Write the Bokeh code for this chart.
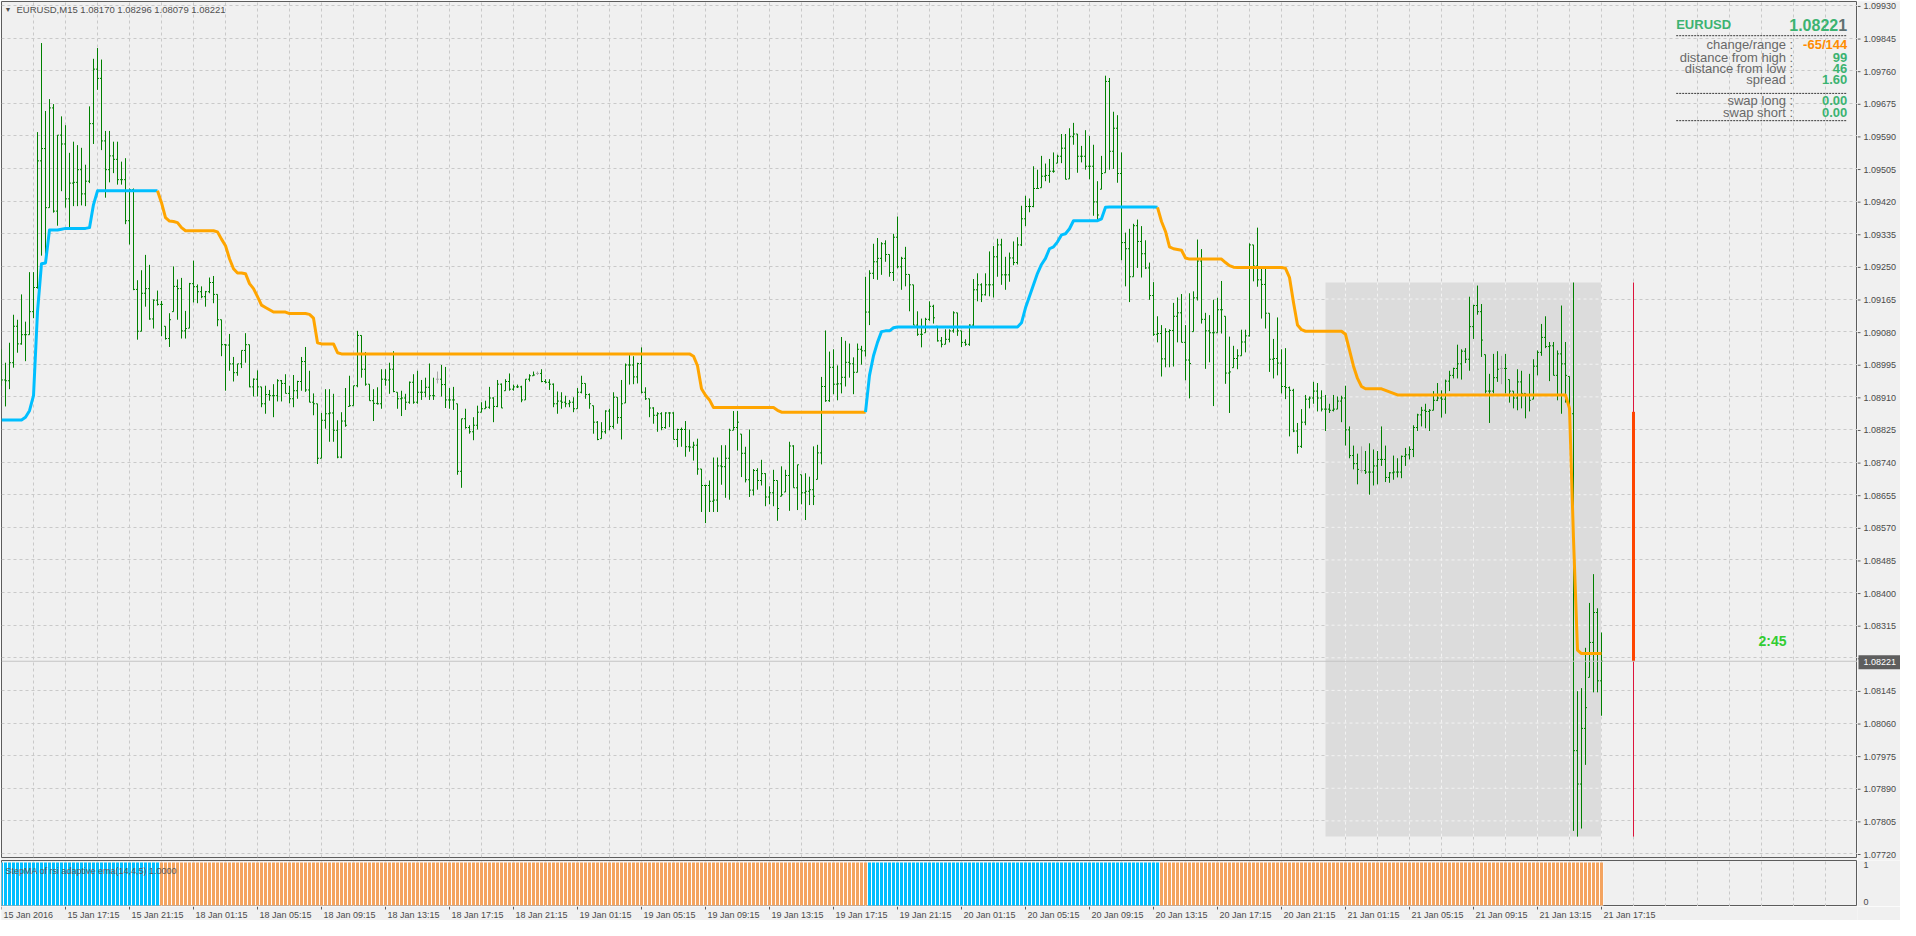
import numpy as np
from bokeh.plotting import figure
from bokeh.layouts import column, row
from bokeh.models import FixedTicker, Span, Label, Range1d, Grid
from bokeh.core.properties import value
from bokeh.embed import file_html
from bokeh.resources import INLINE

# ---------------------------------------------------------------- data
symbol = "EURUSD"
timeframe = "M15"
header_values = ["1.08170", "1.08296", "1.08079", "1.08221"]
bid_price = 1.08221
pip = 0.0001
pip_base = 1.07000          # bar values below are in pips above this level

first_open = 197.5
bar_high = [
    203.4, 199.9, 205.1, 212.4, 211.1, 217.7, 210.6, 223.5, 223.5, 260.0,
    283.2, 265.5, 268.6, 267.3, 259.2, 264.1, 261.8, 254.6, 257.5, 256.6,
    255.9, 251.5, 266.7, 279.1, 281.9, 278.9, 260.3, 260.3, 257.5, 257.5,
    252.3, 253.2, 245.3, 245.3, 221.4, 224.0, 228.0, 225.4, 216.4, 218.7,
    216.0, 209.4, 212.8, 225.0, 221.6, 222.0, 213.4, 220.7, 226.5, 220.3,
    219.8, 218.6, 222.1, 222.5, 217.7, 211.1, 204.8, 207.4, 201.4, 199.6,
    203.1, 207.6, 204.6, 195.8, 197.9, 193.6, 193.9, 192.8, 194.3, 195.6,
    195.4, 196.9, 193.9, 196.7, 195.2, 201.4, 204.0, 197.8, 191.9, 189.2,
    186.8, 193.0, 193.0, 191.8, 184.9, 187.0, 193.3, 196.5, 193.9, 208.2,
    207.0, 202.7, 194.3, 193.0, 193.5, 198.2, 198.2, 199.9, 202.9, 192.2,
    192.6, 191.8, 195.0, 196.9, 197.8, 195.4, 196.0, 199.7, 196.0, 197.6,
    199.3, 198.8, 193.3, 193.6, 189.2, 185.3, 187.9, 183.6, 185.7, 188.7,
    189.6, 190.0, 193.6, 190.9, 195.4, 194.5, 195.6, 197.1, 194.2, 194.2,
    193.9, 195.6, 196.9, 197.6, 197.6, 198.2, 195.6, 195.6, 194.5, 192.4,
    192.2, 191.3, 190.2, 190.9, 193.3, 196.5, 194.5, 191.9, 188.7, 184.7,
    184.4, 187.5, 187.9, 192.2, 190.9, 195.4, 199.7, 201.9, 201.6, 199.9,
    203.9, 193.5, 190.5, 188.3, 187.0, 187.0, 187.0, 187.0, 187.0, 182.7,
    183.0, 184.7, 182.5, 179.3, 180.1, 172.2, 168.1, 169.2, 175.2, 175.2,
    178.4, 178.4, 182.7, 187.3, 187.3, 181.3, 178.0, 182.5, 172.2, 172.4,
    174.6, 171.1, 167.7, 172.0, 169.2, 172.9, 172.0, 179.3, 178.4, 173.3,
    170.7, 171.1, 170.2, 178.1, 178.5, 196.2, 208.3, 202.8, 203.4, 199.2,
    206.6, 205.6, 204.9, 201.3, 204.9, 204.3, 222.3, 224.0, 230.9, 232.4,
    231.3, 231.8, 228.1, 233.5, 238.0, 227.5, 230.1, 222.9, 220.2, 213.3,
    211.4, 211.6, 215.9, 215.0, 209.4, 206.6, 208.6, 208.6, 213.3, 212.9,
    208.2, 206.0, 209.9, 221.7, 223.2, 220.6, 223.2, 228.9, 230.3, 232.2,
    232.2, 227.5, 228.6, 231.5, 232.6, 240.8, 243.4, 242.7, 251.1, 250.2,
    253.8, 251.8, 253.0, 254.7, 254.1, 259.5, 259.5, 261.0, 262.4, 259.5,
    256.4, 260.5, 259.0, 256.7, 247.2, 253.8, 274.7, 274.1, 265.3, 264.4,
    254.7, 233.8, 234.8, 236.1, 237.2, 235.5, 231.8, 226.0, 220.9, 212.0,
    209.7, 208.9, 208.6, 215.5, 216.9, 217.8, 209.7, 218.0, 218.5, 232.0,
    229.5, 212.9, 212.3, 216.3, 216.8, 221.2, 212.0, 206.7, 204.3, 203.4,
    208.5, 208.5, 231.0, 230.6, 235.1, 225.1, 225.1, 212.8, 206.1, 211.7,
    203.4, 203.7, 193.7, 193.1, 184.2, 187.8, 191.5, 191.1, 194.9, 194.6,
    192.7, 191.5, 189.2, 191.5, 191.1, 191.3, 193.9, 183.3, 178.3, 176.2,
    178.1, 176.9, 178.9, 177.3, 176.9, 183.3, 178.3, 171.4, 175.7, 175.0,
    175.7, 177.7, 178.1, 183.6, 186.6, 188.4, 189.2, 187.8, 192.5, 194.6,
    192.7, 195.5, 197.8, 198.6, 204.6, 203.4, 203.7, 217.1, 215.0, 220.0,
    215.2, 202.0, 197.0, 202.2, 202.9, 201.7, 202.2, 195.5, 192.5, 198.2,
    197.8, 191.9, 197.0, 200.8, 203.1, 210.0, 212.0, 205.3, 205.3, 203.1,
    214.8, 205.3, 196.3, 220.8, 114.3, 115.1, 125.6, 137.3, 144.8, 135.9,
    129.6,
]
bar_low = [
    193.9, 188.5, 193.0, 198.6, 202.5, 204.6, 200.3, 207.2, 211.5, 219.2,
    227.8, 228.3, 240.3, 239.0, 235.6, 244.6, 240.3, 235.1, 240.7, 240.7,
    240.9, 240.7, 246.7, 256.9, 271.0, 255.3, 242.9, 246.9, 249.3, 246.3,
    246.3, 236.0, 230.7, 218.8, 205.9, 208.1, 214.5, 211.1, 208.8, 214.8,
    206.8, 205.9, 204.0, 213.2, 211.1, 206.2, 206.2, 208.9, 215.6, 215.4,
    216.7, 214.5, 218.0, 215.4, 209.4, 201.6, 192.6, 197.8, 195.0, 196.5,
    198.5, 199.9, 193.5, 191.1, 191.1, 188.3, 186.6, 190.0, 185.7, 189.8,
    189.8, 191.9, 189.3, 188.3, 190.5, 192.6, 192.3, 189.6, 186.2, 173.5,
    175.0, 182.7, 179.3, 179.3, 175.0, 175.0, 183.2, 188.5, 188.7, 193.5,
    196.0, 193.9, 190.0, 184.7, 189.0, 187.9, 193.9, 191.8, 192.2, 187.9,
    186.0, 187.6, 189.2, 189.2, 189.2, 190.2, 190.9, 190.2, 190.2, 194.5,
    191.1, 188.1, 187.9, 187.6, 170.7, 167.3, 182.7, 181.4, 179.7, 182.5,
    187.0, 187.9, 187.9, 184.4, 188.3, 188.1, 192.6, 192.6, 192.6, 193.3,
    189.6, 190.2, 195.0, 196.5, 196.7, 194.8, 194.5, 192.8, 188.3, 186.6,
    187.9, 188.3, 188.3, 187.0, 187.9, 191.9, 190.5, 187.9, 181.4, 179.7,
    180.1, 181.4, 182.3, 182.7, 184.0, 179.9, 189.4, 194.2, 194.3, 194.5,
    191.9, 190.2, 185.7, 184.0, 181.9, 182.3, 182.7, 183.1, 179.9, 177.9,
    178.0, 175.4, 176.7, 174.4, 170.7, 161.0, 158.1, 161.0, 161.0, 161.0,
    168.1, 164.7, 164.2, 182.3, 177.0, 170.1, 168.7, 164.9, 165.3, 166.8,
    167.9, 162.5, 163.0, 162.5, 158.7, 165.1, 166.2, 161.3, 167.3, 161.5,
    163.0, 158.9, 162.8, 162.8, 169.5, 173.4, 189.7, 189.7, 191.7, 190.1,
    191.9, 193.7, 196.0, 191.7, 197.4, 199.4, 201.5, 209.7, 221.7, 221.5,
    222.8, 226.2, 222.3, 221.2, 224.5, 218.9, 219.8, 213.3, 209.7, 206.9,
    203.9, 207.7, 210.8, 210.1, 205.4, 203.9, 204.7, 205.2, 207.7, 206.9,
    204.0, 204.3, 204.3, 209.4, 215.9, 215.7, 217.4, 217.2, 216.9, 222.3,
    220.2, 218.9, 221.0, 225.3, 225.5, 230.3, 235.5, 239.1, 240.4, 245.3,
    245.5, 247.2, 246.8, 249.4, 251.9, 251.9, 247.7, 247.8, 256.7, 249.4,
    252.1, 250.2, 247.7, 238.2, 236.9, 245.1, 249.4, 250.2, 250.4, 246.8,
    226.6, 219.8, 215.7, 222.3, 224.6, 222.1, 224.3, 216.3, 206.9, 205.2,
    196.3, 198.7, 198.7, 198.9, 205.2, 205.2, 195.3, 190.6, 208.0, 216.1,
    210.1, 198.3, 200.0, 188.6, 207.7, 207.5, 194.4, 186.8, 198.6, 198.2,
    201.7, 202.6, 206.7, 221.1, 219.7, 211.4, 208.8, 197.5, 195.8, 196.6,
    191.9, 190.4, 180.7, 181.8, 176.2, 177.7, 183.6, 188.0, 189.2, 187.2,
    187.2, 182.1, 186.8, 187.2, 187.8, 184.4, 178.3, 175.0, 172.1, 168.2,
    171.2, 170.9, 165.5, 167.9, 168.2, 173.0, 168.8, 168.6, 169.4, 170.0,
    169.8, 173.0, 174.7, 175.3, 182.1, 183.3, 182.8, 182.1, 187.5, 189.9,
    185.6, 186.6, 192.5, 195.8, 195.8, 195.5, 199.8, 197.8, 206.1, 212.4,
    201.4, 191.9, 184.2, 191.9, 194.9, 194.3, 191.9, 189.5, 188.0, 187.5,
    188.0, 185.4, 187.2, 190.4, 196.6, 201.7, 203.7, 195.1, 196.6, 190.1,
    186.6, 189.5, 186.6, 77.9, 76.4, 78.5, 95.1, 117.9, 114.0, 114.0,
    107.9,
]
bar_close = [
    195.4, 195.2, 199.9, 209.4, 204.8, 207.2, 207.2, 213.2, 219.5, 252.5,
    255.7, 240.3, 266.3, 239.4, 259.2, 256.9, 242.6, 246.7, 246.9, 250.2,
    243.9, 247.2, 262.2, 276.4, 274.0, 257.7, 250.2, 253.8, 252.9, 247.6,
    247.6, 236.9, 245.0, 219.0, 208.1, 218.0, 219.2, 211.3, 216.2, 215.1,
    215.1, 206.2, 211.1, 219.8, 219.2, 208.2, 208.8, 220.5, 219.7, 218.4,
    217.1, 218.4, 220.8, 217.7, 211.1, 204.6, 204.5, 199.6, 197.3, 199.6,
    203.1, 204.6, 193.6, 195.6, 193.6, 189.2, 191.6, 191.3, 191.3, 195.2,
    194.5, 191.9, 190.5, 192.6, 195.0, 200.2, 192.8, 189.6, 189.2, 175.0,
    184.9, 186.6, 186.8, 182.3, 175.3, 184.7, 183.6, 188.7, 193.9, 207.0,
    198.2, 194.3, 190.0, 189.3, 189.2, 195.6, 195.4, 198.2, 192.4, 190.5,
    190.7, 189.6, 194.8, 189.6, 192.2, 192.2, 193.5, 191.3, 191.3, 195.6,
    194.2, 190.2, 190.2, 190.2, 171.6, 185.3, 183.0, 181.9, 183.6, 187.0,
    187.9, 188.3, 190.7, 188.5, 194.3, 188.1, 195.0, 193.0, 193.6, 193.6,
    190.2, 195.6, 196.5, 196.7, 197.1, 195.0, 194.8, 194.3, 189.2, 189.9,
    189.6, 189.2, 189.6, 187.9, 192.2, 194.5, 191.6, 189.2, 184.4, 179.9,
    181.9, 187.3, 183.3, 190.9, 185.6, 189.2, 199.3, 199.3, 196.2, 199.7,
    192.2, 190.5, 188.1, 186.2, 186.6, 183.0, 186.8, 186.8, 179.9, 182.5,
    182.5, 178.0, 177.9, 178.4, 172.2, 167.9, 167.9, 163.8, 164.1, 173.0,
    172.8, 175.0, 182.3, 183.0, 184.4, 176.3, 169.4, 166.7, 171.8, 169.2,
    171.0, 164.9, 166.0, 169.2, 161.9, 165.5, 170.5, 178.2, 167.3, 173.3,
    166.0, 166.4, 166.8, 165.1, 176.4, 193.7, 190.0, 198.7, 194.3, 194.4,
    196.1, 200.0, 199.6, 197.4, 203.4, 203.0, 213.1, 223.2, 226.2, 227.1,
    230.9, 228.1, 223.4, 232.6, 224.9, 227.1, 222.9, 220.2, 209.7, 207.3,
    207.3, 211.2, 214.6, 211.6, 205.6, 204.7, 206.0, 208.2, 212.9, 208.2,
    205.2, 204.7, 209.7, 218.9, 220.2, 217.6, 220.2, 220.2, 227.5, 230.6,
    222.8, 222.8, 227.2, 226.0, 230.6, 237.4, 240.6, 240.6, 245.3, 245.3,
    248.5, 248.7, 249.8, 249.8, 253.7, 255.8, 247.7, 258.8, 259.5, 253.7,
    253.7, 251.1, 251.1, 241.8, 238.4, 249.2, 273.2, 255.0, 261.0, 249.2,
    231.2, 229.6, 222.3, 235.6, 231.5, 228.3, 224.6, 217.4, 207.3, 207.5,
    200.9, 208.0, 208.3, 212.0, 212.9, 205.2, 200.6, 199.7, 216.8, 226.4,
    211.2, 208.2, 207.7, 207.7, 213.7, 213.7, 197.2, 197.5, 201.0, 201.7,
    205.3, 206.9, 230.6, 225.1, 221.5, 220.3, 212.8, 200.8, 201.0, 199.8,
    193.7, 193.4, 192.7, 182.1, 178.1, 184.4, 190.4, 190.7, 192.5, 190.7,
    187.8, 187.8, 187.5, 187.8, 189.9, 190.7, 182.4, 175.7, 173.6, 172.1,
    171.8, 171.4, 171.4, 173.0, 174.7, 174.7, 170.0, 171.2, 171.4, 171.4,
    175.5, 175.9, 177.3, 183.0, 186.3, 187.5, 187.2, 187.5, 190.1, 190.7,
    190.4, 195.1, 196.6, 198.4, 199.6, 202.9, 200.8, 209.3, 214.8, 213.2,
    205.8, 192.5, 192.5, 196.0, 198.2, 198.4, 198.4, 192.5, 190.7, 194.9,
    191.9, 191.6, 190.1, 199.0, 202.6, 206.5, 204.1, 204.3, 196.6, 202.2,
    199.6, 196.6, 186.6, 98.8, 90.1, 104.6, 110.0, 127.0, 134.8, 117.0,
    122.1,
]
doji_bars = [109, 134, 340, 375]

step_ma = (
    [185.0] * 6 + [185.7, 187.4, 191.3, 213.2, 225.7, 225.9] + [234.5] * 3 + [234.7]
    + [234.9] * 6 + [235.1, 241.1] + [244.7] * 16
    + [241.6, 237.7, 236.8, 236.7, 236.4, 235.1] + [234.3] * 8
    + [234.0, 232.1, 230.4, 227.0, 224.4, 223.3, 223.3, 223.1, 220.5, 219.2, 217.1, 214.9, 214.3, 213.7]
    + [213.1] * 4 + [212.7] * 5 + [212.5, 211.5, 205.1] + [204.8] * 4 + [202.5]
    + [202.2] * 88 + [201.6, 199.1, 193.1, 191.4, 190.2] + [188.2] * 16 + [187.5]
    + [187.0] * 22 + [196.6, 201.7, 205.2, 208.0, 208.2, 208.2, 209.0] + [209.2] * 31
    + [210.3, 214.2, 217.2, 220.2, 223.2, 225.5, 227.1, 229.6, 230.1, 231.4, 233.2, 233.5, 234.8]
    + [236.9] * 7 + [237.4, 240.4] + [240.5] * 12
    + [240.4, 236.7, 234.1, 230.1, 229.6, 229.4, 229.2, 227.2] + [226.9] * 9
    + [226.0, 225.2, 224.8] + [224.7] * 12 + [224.5, 222.1, 215.6, 209.7, 208.5]
    + [208.1] * 10 + [207.3, 203.2, 199.0, 195.8, 193.7] + [193.1] * 5
    + [192.7, 192.3, 191.9] + [191.5] * 43 + [188.0, 154.0, 125.0] + [124.1] * 6
)
trend_runs = [("up", 40), ("down", 177), ("up", 73), ("down", 111)]
osc_value = 1.0

time_labels = [
    "15 Jan 2016", "15 Jan 17:15", "15 Jan 21:15",
    "18 Jan 01:15", "18 Jan 05:15", "18 Jan 09:15", "18 Jan 13:15", "18 Jan 17:15", "18 Jan 21:15",
    "19 Jan 01:15", "19 Jan 05:15", "19 Jan 09:15", "19 Jan 13:15", "19 Jan 17:15", "19 Jan 21:15",
    "20 Jan 01:15", "20 Jan 05:15", "20 Jan 09:15", "20 Jan 13:15", "20 Jan 17:15", "20 Jan 21:15",
    "21 Jan 01:15", "21 Jan 05:15", "21 Jan 09:15", "21 Jan 13:15", "21 Jan 17:15",
]
price_ticks = [
    1.07720, 1.07805, 1.07890, 1.07975, 1.08060, 1.08145, 1.08230, 1.08315, 1.08400,
    1.08485, 1.08570, 1.08655, 1.08740, 1.08825, 1.08910, 1.08995, 1.09080, 1.09165,
    1.09250, 1.09335, 1.09420, 1.09505, 1.09590, 1.09675, 1.09760, 1.09845, 1.09930,
]
osc_ticks = [0, 1]

day_start_bar = 331
day_open, day_high, day_low, day_close = 1.08871, 1.09208, 1.07764, 1.08221
day_candle_slot = 408

info_title = "EURUSD"
info_price_main, info_price_last = "1.0822", "1"
info_rows = [("change/range :", "-65/144"), ("distance from high :", "99"),
             ("distance from low :", "46"), ("spread :", "1.60")]
swap_rows = [("swap long :", "0.00"), ("swap short :", "0.00")]
timer_text = "2:45"
indicator_name = "StepMA of rsi adaptive ema(14,4,5) 1.0000"

# ---------------------------------------------------------------- styling / geometry
BG = "#f0f0f0"
FRAME_LINE = "#5c5c5c"
GRID = "#c9c9c9"
TXT = "#4a4a4a"
FONT = "Liberation Sans"
BAR_GREEN = "#008000"
DOJI_GRAY = "#a8a8a8"
UP_LINE, DOWN_LINE = "#00bfff", "#ffa500"
UP_HIST, DOWN_HIST = "#00bfff", "#f4a460"
FRAME_W, AXIS_W = 1856, 43
MAIN_H, IND_H, TL_H = 856, 46, 14
BAR_PX = 4.0                      # pixels per bar (as in the reference)
REF_R, REF_T, REF_B = 1873.3, 2.7, 869.0
X_LO = 0.0
X_HI = X_LO + FRAME_W / BAR_PX


def rx(px):                       # reference pixel (from the left) -> bar coordinate
    return (px - 3.0) / BAR_PX


def rxr(px):                      # reference pixel, anchored to the right frame edge
    return X_HI - (REF_R - px) / BAR_PX


def ry(py):                       # reference pixel -> price
    return pip_base + (293.0 - (py - 6.7) / 3.8835) * pip


n = len(bar_close)
idx = np.arange(n, dtype=float)
hi = pip_base + np.array(bar_high) * pip
lo = pip_base + np.array(bar_low) * pip
cl = pip_base + np.array(bar_close) * pip
prev = np.concatenate([[pip_base + first_open * pip], cl[:-1]])
op = np.clip(prev, lo, hi)
colors = [BAR_GREEN] * n
for d in doji_bars:
    op[d] = cl[d]
    colors[d] = DOJI_GRAY
sma = pip_base + np.array(step_ma) * pip

trend = []
for name, cnt in trend_runs:
    trend += [name] * cnt

x_range = Range1d(X_LO, X_HI)
Y_LO, Y_HI = ry(REF_B), ry(REF_T)
y_range = Range1d(Y_LO, Y_HI)
ppx = (Y_HI - Y_LO) / MAIN_H      # price per screen pixel
grid_ticks = list(range(0, int(X_HI) + 1, 8))
label_ticks = list(range(0, n, 16))[: len(time_labels)]


def dashed_grid(fig, dim, ticks):
    fig.add_layout(Grid(dimension=dim, ticker=FixedTicker(ticks=ticks),
                        grid_line_color=GRID, grid_line_dash="3 3"))


def base_fig(fw, fh, xr, yr, **borders):
    f = figure(frame_width=fw, frame_height=fh, x_range=xr, y_range=yr,
               x_axis_location=None, y_axis_location=None,
               output_backend="svg", toolbar_location=None,
               background_fill_color=BG, border_fill_color=BG,
               outline_line_color=None, **borders)
    f.center = [c for c in f.center if not isinstance(c, Grid)]
    return f


# ---------------------------------------------------------------- main price pane
p = base_fig(FRAME_W, MAIN_H, x_range, y_range,
             min_border_left=1, min_border_right=0, min_border_top=1, min_border_bottom=3)
p.outline_line_color = FRAME_LINE
dashed_grid(p, 1, price_ticks)
dashed_grid(p, 0, grid_ticks)

# day range box, grid shows lighter inside it
last_bar = n - 1
p.quad(left=day_start_bar, right=last_bar, bottom=day_low, top=day_high,
       fill_color="#dcdcdc", line_color=None)
vx = [t for t in grid_ticks if day_start_bar <= t <= last_bar]
hy = [t for t in price_ticks if day_low <= t <= day_high]
p.segment(x0=vx, x1=vx, y0=[day_low] * len(vx), y1=[day_high] * len(vx),
          line_color="#f3f3f3", line_dash="3 3", line_width=1)
p.segment(x0=[day_start_bar] * len(hy), x1=[last_bar] * len(hy), y0=hy, y1=hy,
          line_color="#f3f3f3", line_dash="3 3", line_width=1)

p.add_layout(Span(location=bid_price, dimension="width", line_color="#c4c4c4", line_width=1))

# OHLC bars
p.segment(x0=idx, x1=idx, y0=lo, y1=hi, line_color=colors, line_width=1)
p.segment(x0=idx - 0.375, x1=idx, y0=op, y1=op, line_color=colors, line_width=1)
p.segment(x0=idx, x1=idx + 0.375, y0=cl, y1=cl, line_color=colors, line_width=1)

# StepMA line, coloured by trend
xs, ys, lc = [], [], []
s = 0
for name, cnt in trend_runs:
    a = max(s - 1, 0)
    e = s + cnt
    xs.append(list(idx[a:e]))
    ys.append(list(sma[a:e]))
    lc.append(UP_LINE if name == "up" else DOWN_LINE)
    s = e
p.multi_line(xs=xs, ys=ys, line_color=lc, line_width=3, line_join="round")

# daily candle drawn to the right of the last bar
p.segment(x0=[day_candle_slot], x1=[day_candle_slot], y0=[day_low], y1=[day_high],
          line_color="#dc143c", line_width=1)
p.vbar(x=[day_candle_slot], width=0.75, bottom=[day_close], top=[day_open],
       fill_color="#ff4500", line_color=None)

p.add_layout(Label(x=rx(1760), y=ry(650), text=timer_text, text_color="#32cd32",
                   text_font=FONT, text_font_size="14px", text_font_style="bold",
                   text_baseline="middle"))

# header
p.add_layout(Label(x=rx(6), y=ry(11), text="\u25bc", text_color="#505050",
                   text_font_size="7px", text_baseline="middle"))
p.add_layout(Label(x=rx(18), y=ry(11),
                   text=f"{symbol},{timeframe}  " + " ".join(header_values),
                   text_color="#505050", text_font=FONT, text_font_size="9.5px",
                   text_baseline="middle"))

# info panel (anchored to the right edge of the chart)
GREEN_TXT = "#3cb371"
p.add_layout(Label(x=rxr(1692), y=ry(26), text=info_title, text_color=GREEN_TXT,
                   text_font=FONT, text_font_size="13px", text_font_style="bold",
                   text_baseline="middle"))
p.add_layout(Label(x=rxr(1854), y=ry(26), text=info_price_main, text_color=GREEN_TXT,
                   text_font=FONT, text_font_size="16px", text_font_style="bold",
                   text_align="right", text_baseline="middle"))
p.add_layout(Label(x=rxr(1863), y=ry(26), text=info_price_last, text_color="#607070",
                   text_font=FONT, text_font_size="16px", text_font_style="bold",
                   text_align="right", text_baseline="middle"))
for yy in (37.3, 95.7, 123.3):
    p.segment(x0=[rxr(1692)], x1=[rxr(1863)], y0=[ry(yy)], y1=[ry(yy)],
              line_color="#3a3a3a", line_dash="2 1", line_width=1)
for (lab, val), yy in zip(info_rows + swap_rows, [46.7, 59.0, 70.3, 81.7, 102.7, 115.0]):
    p.add_layout(Label(x=rxr(1809), y=ry(yy), text=lab, text_color="#686868",
                       text_font=FONT, text_font_size="13px", text_align="right",
                       text_baseline="middle"))
    p.add_layout(Label(x=rxr(1863), y=ry(yy), text=val,
                       text_color="#ff8c00" if val.startswith("-") else GREEN_TXT,
                       text_font=FONT, text_font_size="13px", text_font_style="bold",
                       text_align="right", text_baseline="middle"))

# ---------------------------------------------------------------- price scale strip
pr = base_fig(AXIS_W, MAIN_H + 4, Range1d(0, AXIS_W),
              Range1d(Y_LO - 3 * ppx, Y_HI + 1 * ppx),
              min_border_left=0, min_border_right=0, min_border_top=0, min_border_bottom=0)
pr.segment(x0=[0] * len(price_ticks), x1=[3] * len(price_ticks), y0=price_ticks, y1=price_ticks,
           line_color=FRAME_LINE, line_width=1)
pr.text(x=[6] * len(price_ticks), y=price_ticks, text=[f"{t:.5f}" for t in price_ticks],
        text_font=value(FONT), text_font_size=value("9px"), text_color=TXT,
        text_baseline="middle", text_align="left")
pr.quad(left=[1], right=[AXIS_W], bottom=[bid_price - 7 * ppx], top=[bid_price + 7 * ppx],
        fill_color="#5e5e5e", line_color=None)
pr.text(x=[6], y=[bid_price], text=[f"{bid_price:.5f}"],
        text_font=value(FONT), text_font_size=value("9px"), text_color="white",
        text_baseline="middle", text_align="left")

# ---------------------------------------------------------------- indicator pane
q = base_fig(FRAME_W, IND_H, x_range, Range1d(-0.025, 1.045),
             min_border_left=1, min_border_right=0, min_border_top=0, min_border_bottom=0)
q.outline_line_color = FRAME_LINE
dashed_grid(q, 0, grid_ticks)
q.quad(left=[idx[0] - 0.5], right=[idx[-1] + 0.5], bottom=[0], top=[osc_value],
       fill_color="white", line_color=None)
q.vbar(x=idx, width=0.75, bottom=0, top=[osc_value] * n,
       fill_color=[UP_HIST if t == "up" else DOWN_HIST for t in trend], line_color=None)
q.add_layout(Label(x=rx(7), y=0.8, text=indicator_name, text_color="#5a5a5a",
                   text_font=FONT, text_font_size="9px", text_baseline="middle"))

qr = base_fig(AXIS_W, IND_H, Range1d(0, AXIS_W), Range1d(-0.025, 1.045),
              min_border_left=0, min_border_right=0, min_border_top=0, min_border_bottom=0)
qr.text(x=[6], y=[osc_ticks[1]], text=[str(osc_ticks[1])], text_font=value(FONT),
        text_font_size=value("9px"), text_color=TXT, text_baseline="top")
qr.text(x=[6], y=[osc_ticks[0]], text=[str(osc_ticks[0])], text_font=value(FONT),
        text_font_size=value("9px"), text_color=TXT, text_baseline="bottom")

# ---------------------------------------------------------------- time scale strip
r = base_fig(FRAME_W, TL_H, x_range, Range1d(0, TL_H),
             min_border_left=1, min_border_right=AXIS_W, min_border_top=0, min_border_bottom=0)
r.segment(x0=label_ticks, x1=label_ticks, y0=[TL_H] * len(label_ticks),
          y1=[TL_H - 3] * len(label_ticks), line_color=FRAME_LINE, line_width=1)
r.text(x=label_ticks, y=[TL_H - 8] * len(label_ticks), text=time_labels, x_offset=2,
       text_font=value(FONT), text_font_size=value("9px"), text_color=TXT,
       text_baseline="middle", text_align="left")

layout = column(row(p, pr, spacing=0), row(q, qr, spacing=0), r, spacing=0)
open("out.html", "w").write(file_html(layout, INLINE))
